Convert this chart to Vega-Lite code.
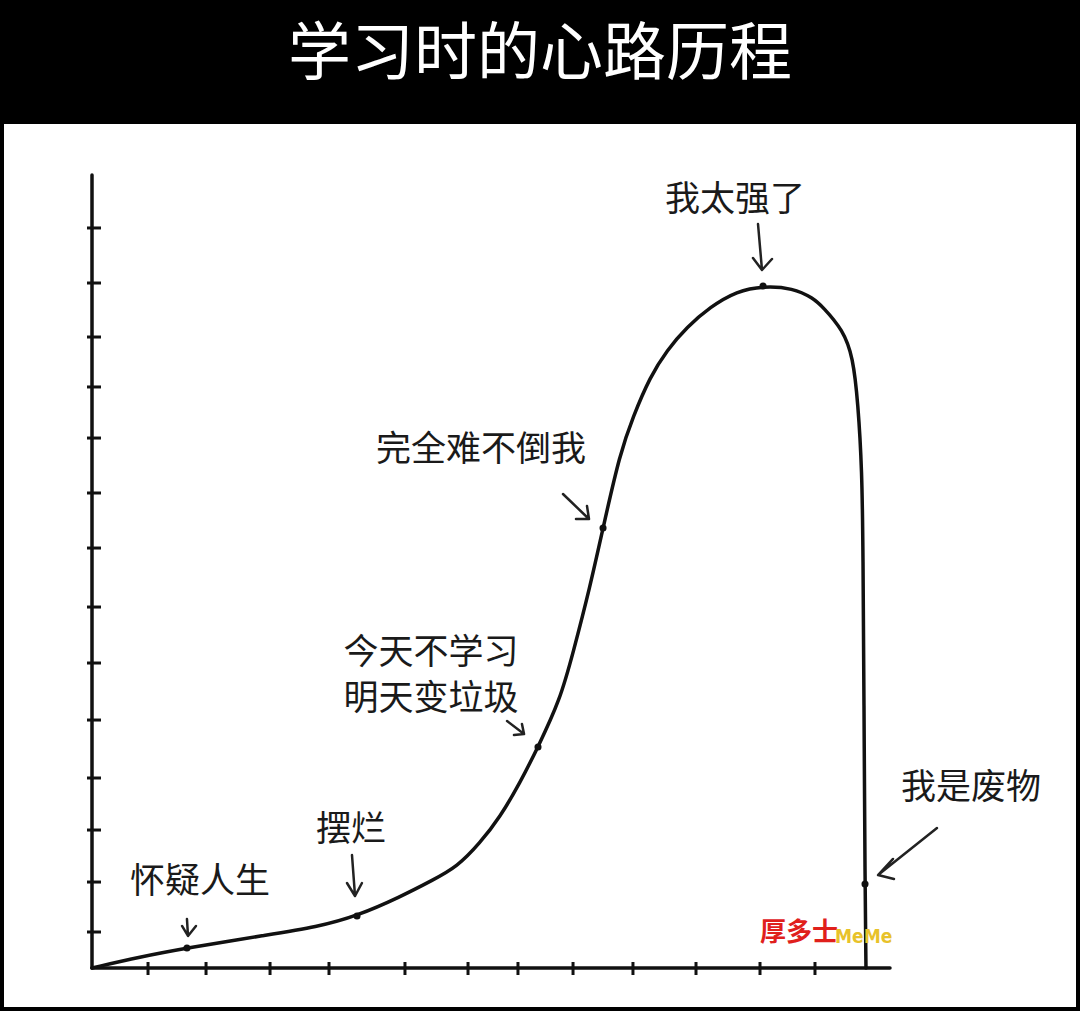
{
  "$schema": "https://vega.github.io/schema/vega-lite/v6.json",
  "description": "学习时的心路历程 - hand drawn mood curve",
  "width": 1080,
  "height": 891,
  "autosize": "none",
  "padding": {"top": 120, "left": 0, "right": 0, "bottom": 0},
  "background": "black",
  "title": {
    "text": "学习时的心路历程",
    "color": "white",
    "font": "Noto Sans CJK SC",
    "fontSize": 63,
    "fontWeight": "normal",
    "anchor": "middle",
    "frame": "group",
    "baseline": "middle",
    "offset": 2
  },
  "datasets": {
    "curve": [
      {"i": 1, "t": 0, "mood": 0},
      {"i": 2, "t": 6.02, "mood": 1.39},
      {"i": 3, "t": 11.9, "mood": 2.52},
      {"i": 4, "t": 21.93, "mood": 4.16},
      {"i": 5, "t": 28.2, "mood": 5.17},
      {"i": 6, "t": 33.21, "mood": 6.56},
      {"i": 7, "t": 38.6, "mood": 8.95},
      {"i": 8, "t": 42.73, "mood": 11.1},
      {"i": 9, "t": 45.74, "mood": 12.74},
      {"i": 10, "t": 48.62, "mood": 15.76},
      {"i": 11, "t": 51.13, "mood": 19.04},
      {"i": 12, "t": 53.63, "mood": 23.33},
      {"i": 13, "t": 55.89, "mood": 27.87},
      {"i": 14, "t": 58.65, "mood": 33.8},
      {"i": 15, "t": 60.28, "mood": 39.72},
      {"i": 16, "t": 62.41, "mood": 48.05},
      {"i": 17, "t": 64.04, "mood": 55.49},
      {"i": 18, "t": 66.17, "mood": 64.94},
      {"i": 19, "t": 67.79, "mood": 69.48},
      {"i": 20, "t": 69.92, "mood": 74.53},
      {"i": 21, "t": 72.06, "mood": 77.93},
      {"i": 22, "t": 74.56, "mood": 80.83},
      {"i": 23, "t": 77.44, "mood": 83.35},
      {"i": 24, "t": 80.83, "mood": 85.37},
      {"i": 25, "t": 84.09, "mood": 86.0},
      {"i": 26, "t": 87.84, "mood": 85.75},
      {"i": 27, "t": 90.35, "mood": 84.49},
      {"i": 28, "t": 91.6, "mood": 83.35},
      {"i": 29, "t": 94.11, "mood": 80.45},
      {"i": 30, "t": 95.36, "mood": 77.05},
      {"i": 31, "t": 95.99, "mood": 71.25},
      {"i": 32, "t": 96.49, "mood": 62.8},
      {"i": 33, "t": 96.62, "mood": 52.71},
      {"i": 34, "t": 96.74, "mood": 33.8},
      {"i": 35, "t": 96.87, "mood": 10.59},
      {"i": 36, "t": 96.99, "mood": 0}
    ],
    "stages": [
      {"stage": "怀疑人生", "t": 11.9, "mood": 2.52},
      {"stage": "摆烂", "t": 33.21, "mood": 6.56},
      {"stage": "今天不学习明天变垃圾", "t": 55.89, "mood": 27.87},
      {"stage": "完全难不倒我", "t": 64.04, "mood": 55.49},
      {"stage": "我太强了", "t": 84.09, "mood": 86.0},
      {"stage": "我是废物", "t": 96.87, "mood": 10.59}
    ],
    "labels": [
      {"text": ["怀疑人生"], "t": 13.53, "mood": 10.84},
      {"text": ["摆烂"], "t": 32.46, "mood": 17.4},
      {"text": ["今天不学习", "明天变垃圾"], "t": 42.48, "mood": 39.72},
      {"text": ["完全难不倒我"], "t": 48.75, "mood": 65.32},
      {"text": ["我太强了"], "t": 80.58, "mood": 96.85},
      {"text": ["我是废物"], "t": 110.15, "mood": 22.7}
    ],
    "arrows": [
      {"a": 1, "k": 1, "t": 83.46, "mood": 93.82},
      {"a": 1, "k": 2, "t": 83.96, "mood": 88.02},
      {"a": 1, "k": 3, "t": 82.83, "mood": 89.53},
      {"a": 1, "k": 4, "t": 83.96, "mood": 88.02},
      {"a": 1, "k": 5, "t": 85.21, "mood": 89.41},
      {"a": 2, "k": 1, "t": 59.02, "mood": 59.77},
      {"a": 2, "k": 2, "t": 62.28, "mood": 56.62},
      {"a": 2, "k": 3, "t": 62.03, "mood": 58.26},
      {"a": 2, "k": 4, "t": 62.28, "mood": 56.62},
      {"a": 2, "k": 5, "t": 60.65, "mood": 56.62},
      {"a": 3, "k": 1, "t": 52.01, "mood": 31.15},
      {"a": 3, "k": 2, "t": 54.14, "mood": 29.51},
      {"a": 3, "k": 3, "t": 53.88, "mood": 30.77},
      {"a": 3, "k": 4, "t": 54.14, "mood": 29.51},
      {"a": 3, "k": 5, "t": 52.88, "mood": 29.38},
      {"a": 4, "k": 1, "t": 32.58, "mood": 14.25},
      {"a": 4, "k": 2, "t": 32.96, "mood": 9.08},
      {"a": 4, "k": 3, "t": 31.95, "mood": 10.72},
      {"a": 4, "k": 4, "t": 32.96, "mood": 9.08},
      {"a": 4, "k": 5, "t": 33.83, "mood": 10.72},
      {"a": 5, "k": 1, "t": 11.9, "mood": 6.18},
      {"a": 5, "k": 2, "t": 12.03, "mood": 4.04},
      {"a": 5, "k": 3, "t": 11.28, "mood": 5.3},
      {"a": 5, "k": 4, "t": 12.03, "mood": 4.04},
      {"a": 5, "k": 5, "t": 13.03, "mood": 5.3},
      {"a": 6, "k": 1, "t": 105.89, "mood": 17.65},
      {"a": 6, "k": 2, "t": 98.5, "mood": 11.73},
      {"a": 6, "k": 3, "t": 100.38, "mood": 13.75},
      {"a": 6, "k": 4, "t": 98.5, "mood": 11.73},
      {"a": 6, "k": 5, "t": 100.5, "mood": 11.22}
    ],
    "axes": [
      {"t": 0, "mood": 0, "t2": 0, "mood2": 100},
      {"t": 0, "mood": 0, "t2": 100, "mood2": 0}
    ],
    "yticks": [
      {"mood": 4.54}, {"mood": 10.84}, {"mood": 17.4}, {"mood": 23.96},
      {"mood": 31.27}, {"mood": 38.46}, {"mood": 45.52}, {"mood": 52.96},
      {"mood": 59.9}, {"mood": 66.83}, {"mood": 73.27}, {"mood": 79.57},
      {"mood": 86.38}, {"mood": 93.32}
    ],
    "xticks": [
      {"t": 7.02}, {"t": 14.29}, {"t": 22.31}, {"t": 29.7}, {"t": 39.22},
      {"t": 47.12}, {"t": 53.38}, {"t": 60.28}, {"t": 67.79}, {"t": 75.69},
      {"t": 83.71}, {"t": 90.6}
    ]
  },
  "layer": [
    {
      "data": {"name": "axes"},
      "mark": {"type": "rule", "color": "#111", "strokeWidth": 3.5, "strokeCap": "round"},
      "encoding": {
        "x": {"field": "t", "type": "quantitative", "axis": null, "scale": {"domain": [-11.529, 123.81], "nice": false, "zero": false}},
        "y": {"field": "mood", "type": "quantitative", "axis": null, "scale": {"domain": [-5.4224, 106.936], "nice": false, "zero": false}},
        "x2": {"field": "t2"},
        "y2": {"field": "mood2"}
      }
    },
    {
      "data": {"name": "yticks"},
      "mark": {"type": "rule", "color": "#111", "strokeWidth": 3, "xOffset": -5, "x2Offset": 9},
      "encoding": {
        "y": {"field": "mood", "type": "quantitative"},
        "x": {"datum": 0},
        "x2": {"datum": 0}
      }
    },
    {
      "data": {"name": "xticks"},
      "mark": {"type": "rule", "color": "#111", "strokeWidth": 3, "yOffset": -6, "y2Offset": 7},
      "encoding": {
        "x": {"field": "t", "type": "quantitative"},
        "y": {"datum": 0},
        "y2": {"datum": 0}
      }
    },
    {
      "data": {"name": "curve"},
      "mark": {"type": "line", "color": "#111", "strokeWidth": 3.5, "interpolate": "basis", "strokeCap": "round"},
      "encoding": {
        "x": {"field": "t", "type": "quantitative"},
        "y": {"field": "mood", "type": "quantitative"},
        "order": {"field": "i"}
      }
    },
    {
      "data": {"name": "stages"},
      "mark": {"type": "point", "filled": true, "color": "#111", "size": 50, "opacity": 1},
      "encoding": {
        "x": {"field": "t", "type": "quantitative"},
        "y": {"field": "mood", "type": "quantitative"}
      }
    },
    {
      "data": {"name": "arrows"},
      "mark": {"type": "line", "color": "#222", "strokeWidth": 2.5, "strokeCap": "round", "strokeJoin": "round"},
      "encoding": {
        "x": {"field": "t", "type": "quantitative"},
        "y": {"field": "mood", "type": "quantitative"},
        "detail": {"field": "a"},
        "order": {"field": "k"}
      }
    },
    {
      "data": {"name": "labels"},
      "mark": {"type": "text", "font": "Noto Sans CJK SC", "fontSize": 35, "color": "#1a1a1a", "baseline": "middle", "align": "center", "lineHeight": 46},
      "encoding": {
        "x": {"field": "t", "type": "quantitative"},
        "y": {"field": "mood", "type": "quantitative"},
        "text": {"field": "text"}
      }
    },
    {
      "data": {"values": [{"mark": "厚多士", "t": 88.6, "mood": 4.41}]},
      "mark": {"type": "text", "font": "Noto Sans CJK SC", "fontSize": 26, "fontWeight": "bold", "color": "#e0201c", "baseline": "middle", "align": "center"},
      "encoding": {
        "x": {"field": "t", "type": "quantitative"},
        "y": {"field": "mood", "type": "quantitative"},
        "text": {"field": "mark"}
      }
    },
    {
      "data": {"values": [{"mark": "MeMe", "t": 96.7, "mood": 3.9}]},
      "mark": {"type": "text", "font": "DejaVu Sans Condensed", "fontSize": 19, "fontWeight": "bold", "color": "#e8c22a", "baseline": "middle", "align": "center"},
      "encoding": {
        "x": {"field": "t", "type": "quantitative"},
        "y": {"field": "mood", "type": "quantitative"},
        "text": {"field": "mark"}
      }
    }
  ],
  "config": {
    "view": {"fill": "white", "stroke": "black", "strokeWidth": 8}
  }
}
